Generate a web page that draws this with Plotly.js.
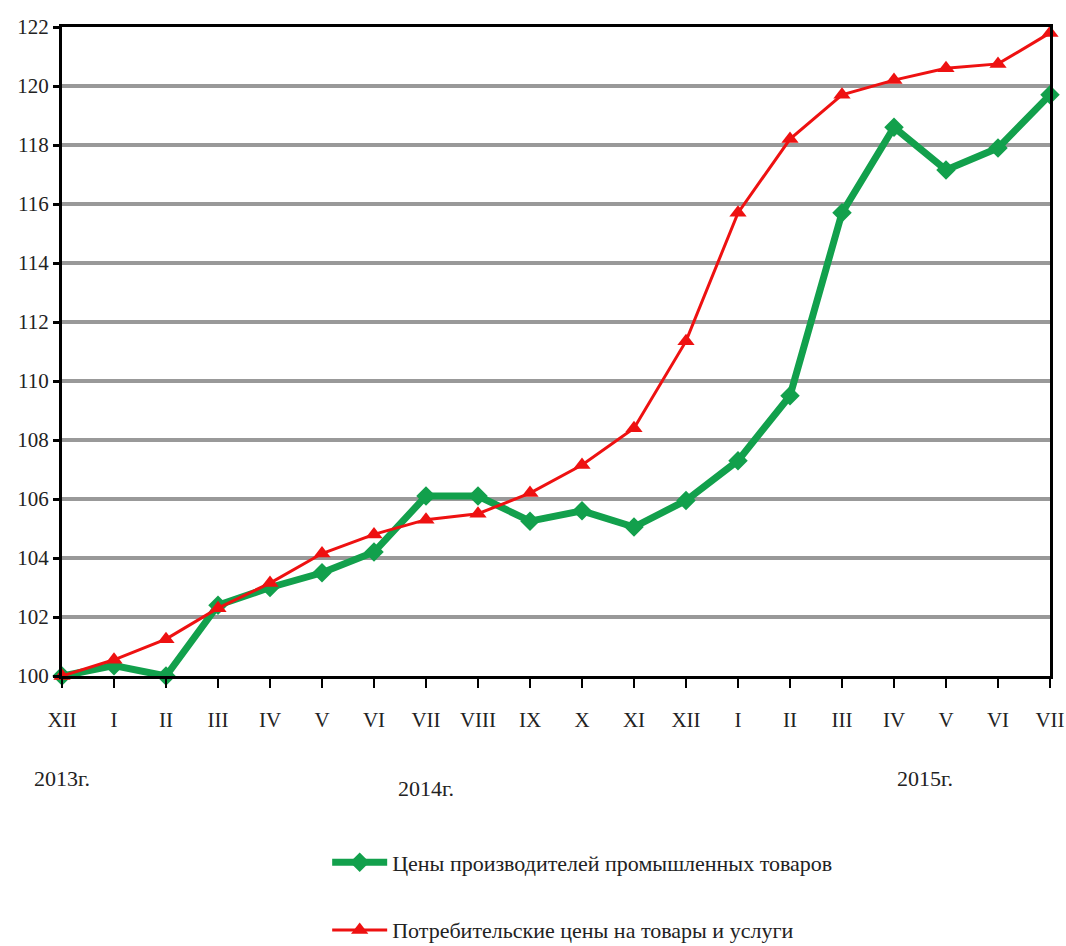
<!DOCTYPE html>
<html>
<head>
<meta charset="utf-8">
<script src="https://cdn.plot.ly/plotly-3.0.1.min.js"></script>
<style>html,body{margin:0;padding:0;background:#fff;}#chart{width:1066px;height:946px;}</style>
</head>
<body>
<div id="chart"></div>
<script>
const monthLabels = ["XII","I","II","III","IV","V","VI","VII","VIII","IX","X","XI","XII","I","II","III","IV","V","VI","VII"];
const producerPrices = [100.0,100.35,100.0,102.4,103.0,103.5,104.2,106.1,106.1,105.25,105.6,105.05,105.95,107.3,109.5,115.7,118.6,117.15,117.9,119.7];
const consumerPrices = [100.0,100.55,101.25,102.3,103.15,104.15,104.8,105.3,105.5,106.2,107.15,108.4,111.35,115.7,118.2,119.7,120.2,120.6,120.75,121.8];
const yearLabels = ["2013г.","2014г.","2015г."];
const yearPositions = [0,7,16.6];
const yearOffsets = [117,127,117];

const xIdx = monthLabels.map((_, i) => i);
const serif = "Liberation Serif, Times New Roman, serif";

const traces = [
  {
    x: xIdx, y: producerPrices, type: "scatter", mode: "lines+markers",
    name: "Цены производителей промышленных товаров",
    legendgroup: "a",
    line: {color: "#12a04c", width: 7},
    marker: {symbol: "diamond", size: 15, color: "#12a04c"},
    cliponaxis: false
  },
  {
    x: xIdx, y: consumerPrices, type: "scatter", mode: "lines+markers",
    name: "Потребительские цены на товары и услуги",
    legendgroup: "b",
    line: {color: "#ee1111", width: 3},
    marker: {symbol: "triangle-up", size: 15, color: "#ee1111"},
    cliponaxis: false
  }
];

const annotations = yearLabels.map((t, i) => ({
  x: yearPositions[i], xref: "x", y: 0, yref: "paper",
  yshift: -yearOffsets[i], text: t, showarrow: false,
  font: {family: serif, size: 22, color: "#222"}
}));

const layout = {
  width: 1066, height: 946,
  margin: {l: 62, r: 16, t: 27, b: 270, autoexpand: false},
  paper_bgcolor: "#fff", plot_bgcolor: "#fff",
  showlegend: true,
  legend: {
    orientation: "v", x: 0.527, xanchor: "center", y: -0.255, yanchor: "top",
    traceorder: "grouped", tracegroupgap: 36,
    font: {family: serif, size: 22, color: "#222"},
    itemwidth: 55
  },
  xaxis: {
    range: [0, 19], tickmode: "array", tickvals: xIdx, ticktext: monthLabels,
    showgrid: false, zeroline: false, automargin: false,
    showline: true, linecolor: "#000", linewidth: 3, mirror: true,
    ticks: "outside", ticklen: 9, tickwidth: 2, tickcolor: "#000",
    tickfont: {family: serif, size: 21, color: "#222"},
    ticklabelstandoff: 14
  },
  yaxis: {
    range: [100, 122], tickmode: "linear", tick0: 100, dtick: 2,
    showgrid: true, gridcolor: "#999", gridwidth: 4, zeroline: false, automargin: false,
    showline: true, linecolor: "#000", linewidth: 3, mirror: true,
    ticks: "outside", ticklen: 6, tickwidth: 3, tickcolor: "#000",
    tickfont: {family: serif, size: 21, color: "#222"}
  },
  annotations: annotations
};

Plotly.newPlot("chart", traces, layout, {displayModeBar: false, staticPlot: true});
</script>
</body>
</html>
